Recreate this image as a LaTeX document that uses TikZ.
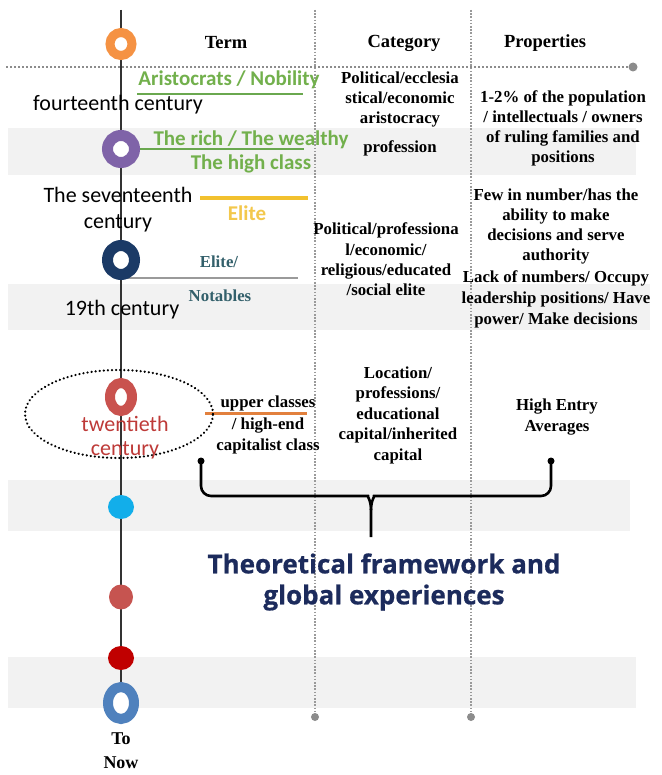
\documentclass[tikz,border=0pt]{standalone}
\usepackage{fontspec}
\setmainfont{Liberation Serif}
\newfontfamily\labelsans{Carlito}
\newfontfamily\titlesans[BoldFeatures={FakeBold=0.7}]{Open Sans}
\usetikzlibrary{shapes.geometric}
\definecolor{bandgray}{HTML}{F2F2F2}
\definecolor{ringorange}{HTML}{F59243}
\definecolor{ringpurple}{HTML}{7F63A8}
\definecolor{ringnavy}{HTML}{1B3A66}
\definecolor{ringred}{HTML}{C9524E}
\definecolor{dotcyan}{HTML}{12AEEA}
\definecolor{dotrose}{HTML}{C65450}
\definecolor{dotdark}{HTML}{C00000}
\definecolor{ringblue}{HTML}{4F81BD}
\definecolor{textgreen}{HTML}{72B04C}
\definecolor{linegreen}{HTML}{6AA84F}
\definecolor{lineyellow}{HTML}{F2C12E}
\definecolor{textyellow}{HTML}{F3C84C}
\definecolor{textslate}{HTML}{33606B}
\definecolor{linegray}{HTML}{9A9A9A}
\definecolor{lineorange}{HTML}{E2803D}
\definecolor{textred}{HTML}{BE3A38}
\definecolor{textnavy}{HTML}{1C2B5C}
\definecolor{dotgray}{HTML}{8C8C8C}
\pgfdeclarelayer{bands}
\pgfdeclarelayer{lines}
\pgfsetlayers{bands,lines,main}
\begin{document}
\begin{tikzpicture}[x=1pt,y=-1pt,
  serifbody/.style={font=\bfseries\fontsize{16.8}{20}\selectfont, align=center, inner sep=0pt},
  serifhead/.style={font=\bfseries\fontsize{18.5}{22}\selectfont, inner sep=0pt},
  sanslabel/.style={font=\labelsans\fontsize{22}{25}\selectfont, align=center, inner sep=0pt},
  greenlabel/.style={font=\labelsans\bfseries\fontsize{21}{24}\selectfont, text=textgreen, inner sep=0pt},
  ring/.style={ellipse, fill=white, inner sep=0pt},
  solidspot/.style={ellipse, inner sep=0pt},
  enddot/.style={circle, fill=dotgray, minimum size=8pt, inner sep=0pt},
  vdotted/.style={draw=linegray, line width=1.6pt, dash pattern=on 1.6pt off 1.6pt},
  hdotted/.style={draw=dotgray, line width=2pt, dash pattern=on 2pt off 2pt},
  timeline/.style={draw=black!80, line width=2.6pt},
  bandrect/.style={fill=bandgray, draw=none}
]
\useasboundingbox (0,0) rectangle (661,775);

% background and gray bands
\begin{pgfonlayer}{bands}
\fill[white] (0,0) rectangle (661,775);
\fill[bandrect] (8,128) rectangle (636,175);
\fill[bandrect] (8,284) rectangle (650,330);
\fill[bandrect] (8,480) rectangle (630,531);
\fill[bandrect] (8,657) rectangle (636,708);
\end{pgfonlayer}

% timeline markers
\node[ring, draw=ringorange, line width=9pt, minimum width=22pt, minimum height=23pt] (r1) at (121,44) {};
\node[ring, draw=ringpurple, line width=11pt, minimum width=27pt, minimum height=27pt] (r2) at (121,149) {};
\node[ring, draw=ringnavy, line width=11pt, minimum width=27pt, minimum height=29pt] (r3) at (121,260) {};
\node[ring, draw=ringred, line width=10pt, minimum width=22pt, minimum height=28pt] (r4) at (121,397) {};
\node[solidspot, fill=dotcyan, minimum width=26pt, minimum height=24pt] (r5) at (121,507) {};
\node[solidspot, fill=dotrose, minimum width=24pt, minimum height=25pt] (r6) at (121,597) {};
\node[solidspot, fill=dotdark, minimum width=26pt, minimum height=24pt] (r7) at (121,658) {};
\node[ring, draw=ringblue, line width=10pt, minimum width=26pt, minimum height=32pt] (r8) at (121,703) {};
\coordinate (ttop) at (121,10);

% dotted grid
\coordinate (v1top) at (315,10);
\coordinate (v2top) at (471,10);
\node[enddot] (v1end) at (315,717) {};
\node[enddot] (v2end) at (471,717) {};
\coordinate (hstart) at (6,67);
\node[enddot, minimum size=9pt] (hend) at (633,67) {};

% guide line ends
\coordinate (g1a) at (137,94);
\coordinate (g1b) at (303,94);
\coordinate (g2b) at (303,150);
\coordinate (y1a) at (200,198);
\coordinate (y1b) at (308,198);
\coordinate (n1b) at (298,278);
\coordinate (o1a) at (205,413);
\coordinate (o1b) at (307,413);

\begin{pgfonlayer}{lines}
\draw[timeline] (ttop) -- (r1.center) -- (r2.center) -- (r3.center) -- (r4.center) -- (r5.center) -- (r6.center) -- (r7.center) -- (r8.center);
\draw[vdotted] (v1top) -- (v1end);
\draw[vdotted] (v2top) -- (v2end);
\draw[hdotted] (hstart) -- (hend);
\draw[draw=linegreen, line width=2.6pt] (g1a) -- (g1b);
\draw[draw=linegreen, line width=2.6pt] (r2.center) -- (r2.center -| g2b) -- (g2b);
\draw[draw=lineyellow, line width=3.2pt] (y1a) -- (y1b);
\draw[draw=linegray, line width=2.6pt] (r3.center |- n1b) -- (n1b);
\draw[draw=lineorange, line width=3pt] (o1a) -- (o1b);
\end{pgfonlayer}

% headers
\node[serifhead] (hterm) at (226,43) {Term};
\node[serifhead] (hcat) at (404,43) {Category};
\node[serifhead] (hprop) at (545,43) {Properties};

% row 1
\node[greenlabel] (aris) at (229,80) {Aristocrats / Nobility};
\node[sanslabel] (c14) at (118,105) {fourteenth century};
\node[serifbody] (cat1) at (400,99.5) {Political/ecclesia\\stical/economic\\aristocracy};
\node[serifbody] (prop1) at (563,128) {1-2\% of the population\\/ intellectuals / owners\\of ruling families and\\positions};
\node[greenlabel] (rich) at (251,140) {The rich / The wealthy};
\node[greenlabel] (high) at (251,164) {The high class};
\node[serifbody] (prof) at (400,148) {profession};

% row 2
\node[sanslabel, font=\labelsans\fontsize{22}{26}\selectfont] (c17) at (118,210) {The seventeenth\\century};
\node[font=\labelsans\bfseries\fontsize{21}{24}\selectfont, text=textyellow, inner sep=0pt] (elite) at (247,213) {Elite};
\node[serifbody, text=textslate] (elite2) at (219,262) {Elite/};
\node[serifbody, text=textslate] (notab) at (220,296) {Notables};
\node[sanslabel] (c19) at (122,310) {19th century};
\node[serifbody, font=\bfseries\fontsize{16.8}{20.3}\selectfont] (cat2) at (386,259.5) {Political/professiona\\l/economic/\\religious/educated\\/social elite};
\node[serifbody, font=\bfseries\fontsize{16.8}{20.3}\selectfont] (prop2) at (556,226.5) {Few in number/has the\\ability to make\\decisions and serve\\authority};
\node[serifbody, font=\bfseries\fontsize{16.8}{21}\selectfont] (prop3) at (556,299) {Lack of numbers/ Occupy\\leadership positions/ Have\\power/ Make decisions};

% row 3
\node[ellipse, draw=black, line width=2.4pt, dash pattern=on 0.1pt off 4pt, line cap=round, minimum width=188pt, minimum height=88pt, inner sep=0pt] (ell) at (119,414) {};
\node[sanslabel, text=textred, font=\labelsans\fontsize{22}{24}\selectfont] (c20) at (125,438) {twentieth\\century};
\node[serifbody, font=\bfseries\fontsize{16.8}{21.5}\selectfont] (upper) at (268,425) {upper classes\\/ high-end\\capitalist class};
\node[serifbody, font=\bfseries\fontsize{16.8}{20.5}\selectfont] (cat3) at (398,415) {Location/\\professions/\\educational\\capital/inherited\\capital};
\node[serifbody, font=\bfseries\fontsize{16.8}{21}\selectfont] (prop4) at (557,417.5) {High Entry\\Averages};

% brace
\node[circle, fill=black, minimum size=7pt, inner sep=0pt] (bl) at (201,461) {};
\node[circle, fill=black, minimum size=7pt, inner sep=0pt] (br) at (551,461) {};
\coordinate (bstem) at (371,537);
\draw[line width=2.6pt, rounded corners=10pt] (bl.center) -- (201,496) -- (358,496) [sharp corners] .. controls (367,496) and (371,500) .. (371,510) -- (bstem);
\draw[line width=2.6pt, rounded corners=10pt] (br.center) -- (551,496) -- (384,496) [sharp corners] .. controls (375,496) and (371,500) .. (371,510);

% title
\node[font=\titlesans\bfseries\fontsize{26}{31}\selectfont, text=textnavy, align=center, inner sep=0pt] (theo) at (384,582) {Theoretical framework and\\global experiences};

% end
\node[serifbody, font=\bfseries\fontsize{18}{24}\selectfont] (now) at (121,751) {To\\Now};
\end{tikzpicture}
\end{document}
